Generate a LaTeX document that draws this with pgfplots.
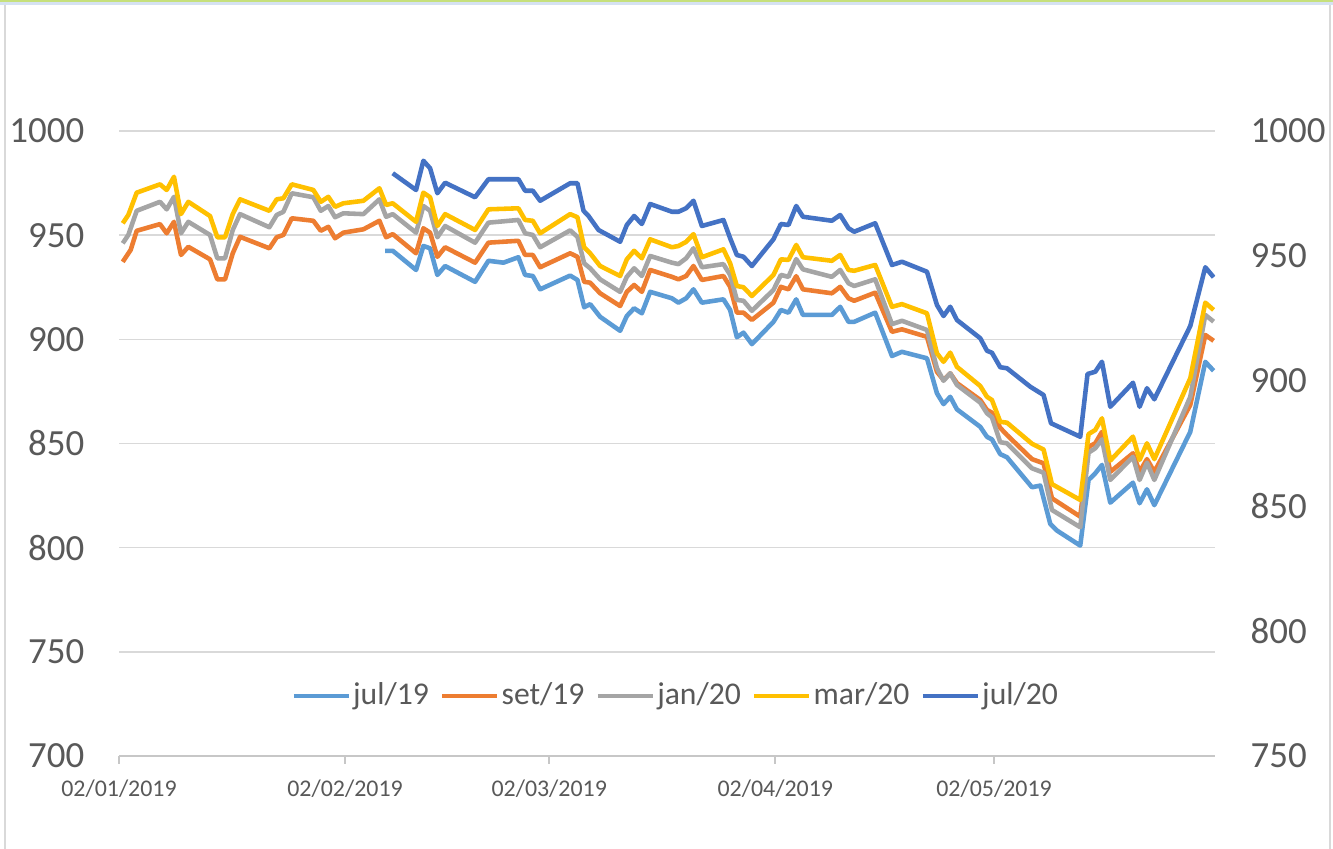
\documentclass[border=0pt]{standalone}
\usepackage{fontspec}
\setmainfont{Carlito}
\usepackage{pgfplots}
\pgfplotsset{compat=1.18}
\definecolor{c1}{HTML}{5B9BD5}
\definecolor{c2}{HTML}{ED7D31}
\definecolor{c3}{HTML}{A5A5A5}
\definecolor{c4}{HTML}{FFC000}
\definecolor{c5}{HTML}{4472C4}
\definecolor{txt}{HTML}{595959}
\definecolor{gridc}{HTML}{D9D9D9}
\definecolor{topg}{HTML}{C6E07C}
\definecolor{topb}{HTML}{D6E2F2}
\pgfplotsset{base/.style={scale only axis, width=10.96cm, height=6.25cm, xmin=0, xmax=150.3,
  at={(1.19cm,0.93cm)}, anchor=south west,
  /pgf/number format/assume math mode=true, /pgf/number format/1000 sep={},
  every axis plot/.append style={line width=1.3pt, line join=round, mark=none}}}
\begin{document}
\begin{tikzpicture}[x=1cm,y=1cm]
\useasboundingbox (0,0) rectangle (13.33,8.49);
\fill[white] (0,0) rectangle (13.33,8.49);
\fill[topb] (0,8.44) rectangle (13.33,8.47);
\fill[topg] (0,8.47) rectangle (13.33,8.49);
\draw[gridc, line width=0.025cm] (0.05,0) -- (0.05,8.44);
\draw[gridc, line width=0.025cm] (13.30,0) -- (13.30,8.44);
\begin{axis}[base, ymin=700, ymax=1000, ytick={700,750,...,1000},
  ymajorgrids, grid style={gridc, line width=0.45pt},
  axis x line*=bottom, axis y line*=left,
  y axis line style={draw=none}, ytick style={draw=none},
  x axis line style={-, draw=gridc!80!gray, line width=0.6pt},
  xtick={0,31,59,90,120},
  xticklabels={02/01/2019,02/02/2019,02/03/2019,02/04/2019,02/05/2019},
  xtick style={draw=gridc!80!gray, line width=0.6pt}, xtick align=outside, major tick length=0.08cm,
  yticklabel style={font=\fontsize{10.5}{12}\selectfont, color=txt, inner sep=0pt, xshift=-0.34cm},
  xticklabel style={font=\fontsize{6.8}{8}\selectfont, color=txt, inner sep=0pt, yshift=-0.15cm}]
% jul/19
\addplot[c1] coordinates {(36.49,942.5)(37.54,942.5)(40.74,933.3)(41.74,944.8)(42.66,943.7)(43.66,930.9)(44.72,935.2)(48.83,927.6)(50.66,937.7)(52.72,936.8)(54.77,939.4)(55.69,930.9)(56.75,930.4)(57.75,924.0)(61.87,930.6)(62.87,928.5)(63.79,915.4)(64.61,916.9)(65.98,910.8)(68.72,904.1)(69.64,911.2)(70.64,914.9)(71.70,912.5)(72.84,922.8)(75.82,919.7)(76.72,917.6)(77.78,919.7)(78.78,924.0)(79.93,917.6)(82.89,919.2)(83.81,914.1)(84.73,901.0)(85.64,903.2)(86.79,897.7)(89.75,908.4)(90.77,914.1)(91.81,912.8)(92.87,919.2)(93.79,911.7)(97.76,911.7)(98.90,915.6)(100.04,908.4)(100.82,908.4)(103.70,912.8)(106.00,892.0)(107.37,894.0)(110.80,890.9)(112.17,874.1)(113.07,868.9)(113.99,872.4)(114.91,866.4)(118.11,858.0)(119.03,853.2)(119.71,852.0)(120.85,844.9)(121.77,843.4)(125.20,829.0)(126.34,829.8)(127.71,811.4)(128.63,808.2)(131.82,801.0)(132.96,832.5)(133.88,835.7)(134.80,839.7)(135.94,821.6)(139.05,831.2)(139.96,821.3)(140.97,828.0)(141.98,820.4)(146.91,855.6)(148.97,889.2)(150.11,884.9)};
% set/19
\addplot[c2] coordinates {(0.51,937.2)(1.6,942.9)(2.43,952.1)(5.62,955.3)(6.54,950.9)(7.54,956.4)(8.50,940.5)(9.51,944.4)(12.48,938.4)(13.48,928.8)(14.54,928.8)(15.60,941.3)(16.60,949.2)(20.62,943.7)(21.63,949.0)(22.54,950.1)(23.69,958.1)(26.65,956.9)(27.67,952.1)(28.71,954.0)(29.63,948.5)(30.77,951.2)(33.51,952.8)(35.71,956.9)(36.63,949.0)(37.54,950.5)(40.74,941.3)(41.74,953.3)(42.66,951.2)(43.66,939.6)(44.72,944.2)(48.83,936.8)(50.66,946.4)(54.77,947.3)(55.69,940.5)(56.75,940.5)(57.75,934.6)(61.87,941.3)(62.87,939.6)(63.79,927.6)(64.61,927.2)(65.98,922.1)(68.72,916.0)(69.64,922.8)(70.64,926.1)(71.70,922.8)(72.84,933.3)(75.82,930.0)(76.72,928.8)(77.78,930.4)(78.78,935.2)(79.93,928.5)(82.89,930.4)(83.81,925.2)(84.73,912.8)(85.64,912.8)(86.79,909.3)(89.75,917.6)(90.77,925.2)(91.81,924.0)(92.87,930.3)(93.79,924.0)(97.76,922.1)(98.90,925.2)(100.04,919.7)(100.82,918.5)(103.70,922.4)(106.00,903.6)(107.37,904.8)(110.80,901.2)(112.17,884.4)(113.07,880.5)(113.99,883.7)(114.91,879.0)(118.11,870.9)(119.03,866.1)(119.71,864.8)(120.85,857.5)(121.77,854.1)(125.20,842.5)(126.79,840.5)(127.94,823.7)(131.82,814.9)(132.96,848.4)(133.88,850.1)(134.80,855.6)(135.94,836.4)(139.05,845.3)(139.96,836.4)(140.97,842.5)(141.98,836.4)(146.91,868.5)(148.97,902.1)(150.11,899.3)};
% jan/20
\addplot[c3] coordinates {(0.51,946.1)(1.28,950.1)(2.43,961.7)(5.62,966.0)(6.54,962.4)(7.54,968.4)(8.50,950.9)(9.51,956.4)(12.48,950.1)(13.48,938.9)(14.54,938.9)(15.60,952.5)(16.60,960.1)(20.62,953.8)(21.63,959.7)(22.54,961.2)(23.69,970.1)(26.65,968.2)(27.67,961.7)(28.71,964.0)(29.63,958.6)(30.77,960.5)(33.51,960.1)(35.71,967.2)(36.63,958.8)(37.54,960.1)(40.74,951.2)(41.74,964.0)(42.66,961.7)(43.66,949.0)(44.72,954.4)(48.83,946.4)(50.66,956.0)(54.77,957.3)(55.69,950.9)(56.75,950.1)(57.75,944.2)(61.87,952.3)(62.87,949.2)(63.79,936.5)(64.61,934.1)(65.98,928.8)(68.72,922.8)(69.64,930.0)(70.64,934.1)(71.70,930.4)(72.84,940.0)(75.82,936.8)(76.72,936.1)(77.78,938.9)(78.78,943.7)(79.93,934.6)(82.89,936.1)(83.81,930.9)(84.73,918.9)(85.64,918.5)(86.79,913.7)(89.75,923.7)(90.77,930.9)(91.81,930.0)(92.87,938.5)(93.79,933.6)(97.76,930.0)(98.90,933.3)(100.04,926.9)(100.82,925.6)(103.70,928.8)(106.00,907.3)(107.37,908.9)(110.80,904.5)(112.17,886.1)(113.07,880.1)(113.99,883.7)(114.91,878.1)(118.11,869.6)(119.03,864.5)(119.71,862.6)(120.85,850.6)(121.77,850.1)(125.20,838.1)(126.79,836.0)(127.94,818.1)(131.82,809.8)(132.96,845.6)(133.88,847.7)(134.80,852.0)(135.94,832.5)(139.05,843.6)(139.96,832.5)(140.97,840.8)(141.98,832.5)(146.91,872.4)(148.97,911.7)(150.11,908.5)};
% mar/20
\addplot[c4] coordinates {(0.51,955.7)(1.28,959.7)(2.43,970.4)(5.62,974.4)(6.54,971.7)(7.54,978.0)(8.50,960.1)(9.51,966.0)(12.48,959.2)(13.48,949.0)(14.54,949.0)(15.60,960.1)(16.60,967.2)(20.62,961.7)(21.63,967.2)(22.54,967.7)(23.69,974.4)(26.65,971.7)(27.67,966.0)(28.71,968.4)(29.63,963.6)(30.77,965.3)(33.51,966.5)(35.71,972.5)(36.63,964.5)(37.54,965.3)(40.74,956.4)(41.74,970.4)(42.66,968.2)(43.66,954.4)(44.72,960.1)(48.83,952.5)(50.66,962.4)(54.77,962.9)(55.69,957.3)(56.75,956.9)(57.75,950.9)(61.87,960.1)(62.87,958.6)(63.79,944.2)(64.61,941.3)(65.98,935.2)(68.72,930.4)(69.64,938.4)(70.64,942.5)(71.70,938.9)(72.84,948.0)(75.82,944.2)(76.72,944.8)(77.78,946.8)(78.78,950.5)(79.93,939.4)(82.89,943.2)(83.81,936.5)(84.73,925.6)(85.64,925.0)(86.79,920.8)(89.75,930.9)(90.77,938.4)(91.81,938.1)(92.87,945.3)(93.79,939.4)(97.76,937.7)(98.90,940.5)(100.04,933.3)(100.82,932.9)(103.70,935.7)(106.00,915.6)(107.37,916.9)(110.80,912.5)(112.17,893.3)(113.07,889.2)(113.99,893.6)(114.91,886.8)(118.11,877.6)(119.03,872.4)(119.71,870.9)(120.85,860.4)(121.77,860.0)(125.20,849.9)(126.79,847.1)(127.94,830.5)(131.82,822.9)(132.96,854.5)(133.88,856.5)(134.80,862.1)(135.94,841.8)(139.05,853.3)(139.96,842.1)(140.97,850.1)(141.98,842.5)(146.91,881.3)(148.97,917.6)(150.11,914.1)};
\end{axis}
\begin{axis}[base, ymin=750, ymax=1000, ytick={750,800,...,1000},
  axis x line=none, axis y line*=right,
  y axis line style={draw=none}, ytick style={draw=none},
  yticklabel style={font=\fontsize{10.5}{12}\selectfont, color=txt, inner sep=0pt, xshift=0.35cm},
  legend columns=5,
  legend style={draw=none, fill=none, at={(0.508,0.096)}, anchor=center,
    font=\fontsize{9}{11}\selectfont, text=txt, nodes={inner sep=0.6pt},
    /tikz/every even column/.append style={column sep=0.09cm}},
  legend image code/.code={\draw[#1] (0cm,0cm) -- (0.55cm,0cm);}]
\addlegendimage{c1, line width=1.3pt}\addlegendentry{jul/19}
\addlegendimage{c2, line width=1.3pt}\addlegendentry{set/19}
\addlegendimage{c3, line width=1.3pt}\addlegendentry{jan/20}
\addlegendimage{c4, line width=1.3pt}\addlegendentry{mar/20}
% jul/20 (right axis)
\addplot[c5] coordinates {(37.54,983.1)(40.74,976.4)(41.74,988.1)(42.66,985.1)(43.66,975.1)(44.72,979.3)(48.83,973.5)(50.66,980.7)(54.77,980.7)(55.69,976.1)(56.75,976.1)(57.75,972.1)(61.87,979.1)(62.87,979.1)(63.70,968.1)(64.39,966.0)(65.76,960.4)(68.72,955.7)(69.64,962.4)(70.64,966.0)(71.70,962.8)(72.84,970.8)(75.82,967.7)(76.72,967.7)(77.78,969.1)(78.78,972.1)(79.93,962.0)(82.89,964.4)(83.81,957.1)(84.73,950.4)(85.64,949.7)(86.79,946.0)(89.75,956.7)(90.77,962.8)(91.81,962.4)(92.87,970.0)(93.79,965.7)(97.76,964.1)(98.90,966.4)(100.04,961.1)(100.82,959.7)(103.70,963.1)(106.00,946.4)(107.37,947.7)(110.80,943.7)(112.17,930.4)(113.07,926.0)(113.99,929.7)(114.91,924.4)(118.11,917.1)(119.03,912.1)(119.71,911.3)(120.85,905.5)(121.77,905.1)(124.97,897.7)(126.79,894.4)(127.81,883.1)(131.82,877.7)(132.82,902.8)(133.88,903.7)(134.80,907.7)(135.94,889.7)(139.05,899.3)(139.96,889.7)(140.97,897.1)(141.98,892.7)(146.91,922.0)(148.97,945.5)(150.11,941.5)};
\addlegendentry{jul/20}
\end{axis}
\end{tikzpicture}
\end{document}
